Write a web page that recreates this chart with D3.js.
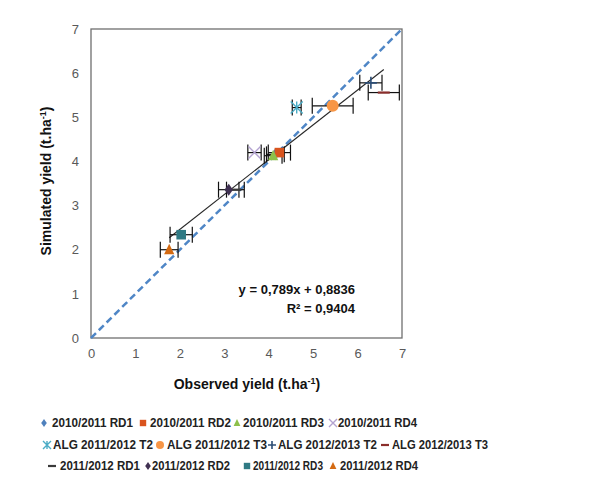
<!DOCTYPE html>
<html>
<head>
<meta charset="utf-8">
<script src="https://cdn.jsdelivr.net/npm/d3@7"></script>
<style>
  body { margin: 0; background: #fff; }
  svg { display: block; }
</style>
</head>
<body>
<div id="chart"></div>
<script>
// series names, in legend order
const seriesNames = [
  "2010/2011 RD1", "2010/2011 RD2", "2010/2011 RD3", "2010/2011 RD4",
  "ALG 2011/2012 T2", "ALG 2011/2012 T3", "ALG 2012/2013 T2", "ALG 2012/2013 T3",
  "2011/2012 RD1", "2011/2012 RD2", "2011/2012 RD3", "2011/2012 RD4",
];
// observed yield (t/ha)
const observed = [4.15, 4.24, 4.1, 3.68, 4.63, 5.44, 6.3, 6.59, 3.25, 3.1, 2.03, 1.76];
// simulated yield (t/ha)
const simulated = [4.16, 4.2, 4.13, 4.2, 5.22, 5.26, 5.78, 5.56, 3.36, 3.36, 2.34, 2.0];
// horizontal error on observed
const obsError = [0.2, 0.25, 0.2, 0.15, 0.1, 0.46, 0.25, 0.35, 0.2, 0.23, 0.25, 0.2];

const markerShapes = ["diamond", "square", "triangle", "x", "asterisk", "circle", "plus", "dash",
  "dash", "diamond", "square", "triangle"];
const markerColors = ["#4F81BD", "#D9541E", "#8DC04A", "#B3A2D0", "#4BACC6", "#F79646", "#2C4D75", "#8B2E2B",
  "#3A3A3A", "#403152", "#2F7A84", "#D46A12"];

const xTicks = [0, 1, 2, 3, 4, 5, 6, 7];
const yTicks = [0, 1, 2, 3, 4, 5, 6, 7];

const trendSlope = 0.789;
const trendIntercept = 0.8836;
const equationLines = ["y = 0,789x + 0,8836", "R² = 0,9404"];

const width = 589, height = 499;
const margin = { top: 29, right: 187, bottom: 161, left: 91 };
const plotW = width - margin.left - margin.right;
const plotH = height - margin.top - margin.bottom;

const data = seriesNames.map((name, i) => ({
  name, obs: observed[i], sim: simulated[i], err: obsError[i],
  shape: markerShapes[i], color: markerColors[i],
}));

const svg = d3.select("#chart").append("svg")
  .attr("width", width).attr("height", height);

const x = d3.scaleLinear().domain([0, 7]).range([0, plotW]);
const y = d3.scaleLinear().domain([0, 7]).range([plotH, 0]);

const g = svg.append("g").attr("transform", `translate(${margin.left},${margin.top})`);

// tick labels
const fontTick = "'Liberation Sans', Arial, sans-serif";
const xAxis = g.append("g").attr("transform", `translate(0,${plotH})`)
  .call(d3.axisBottom(x).tickValues(xTicks).tickSize(0).tickPadding(11).tickFormat(d3.format("d")));
const yAxis = g.append("g")
  .call(d3.axisLeft(y).tickValues(yTicks).tickSize(0).tickPadding(12).tickFormat(d3.format("d")));
[xAxis, yAxis].forEach(a => {
  a.select(".domain").remove();
  a.selectAll("text").attr("fill", "#595959").style("font-family", fontTick).style("font-size", "13px");
});

// plot frame
g.append("rect").attr("width", plotW).attr("height", plotH)
  .attr("fill", "none").attr("stroke", "#6f6f6f").attr("stroke-width", 1.3);

// 1:1 line
g.append("line")
  .attr("x1", x(0)).attr("y1", y(0)).attr("x2", x(7)).attr("y2", y(7))
  .attr("stroke", "#4F86C6").attr("stroke-width", 2.5).attr("stroke-dasharray", "7,4");

// trend line
const ext = d3.extent(data, d => d.obs);
g.append("line")
  .attr("x1", x(ext[0])).attr("y1", y(trendSlope * ext[0] + trendIntercept))
  .attr("x2", x(ext[1])).attr("y2", y(trendSlope * ext[1] + trendIntercept))
  .attr("stroke", "#262626").attr("stroke-width", 1.1);

// error bars
const eb = g.selectAll(".eb").data(data).enter().append("g").attr("class", "eb")
  .attr("stroke", "#111").attr("stroke-width", 1.2);
eb.append("line")
  .attr("x1", d => x(d.obs - d.err)).attr("x2", d => x(d.obs + d.err))
  .attr("y1", d => y(d.sim)).attr("y2", d => y(d.sim));
eb.append("line")
  .attr("x1", d => x(d.obs - d.err)).attr("x2", d => x(d.obs - d.err))
  .attr("y1", d => y(d.sim) - 8).attr("y2", d => y(d.sim) + 8);
eb.append("line")
  .attr("x1", d => x(d.obs + d.err)).attr("x2", d => x(d.obs + d.err))
  .attr("y1", d => y(d.sim) - 8).attr("y2", d => y(d.sim) + 8);

function drawMarker(sel, shape, color, size) {
  const s = size;
  if (shape === "diamond") {
    sel.append("path").attr("d", `M0,${-s}L${s * 0.7},0L0,${s}L${-s * 0.7},0Z`).attr("fill", color);
  } else if (shape === "square") {
    sel.append("rect").attr("x", -s * 0.8).attr("y", -s * 0.8).attr("width", s * 1.6).attr("height", s * 1.6).attr("fill", color);
  } else if (shape === "triangle") {
    sel.append("path").attr("d", `M0,${-s}L${s * 0.85},${s * 0.75}L${-s * 0.85},${s * 0.75}Z`).attr("fill", color);
  } else if (shape === "circle") {
    sel.append("circle").attr("r", s).attr("fill", color);
  } else if (shape === "x") {
    sel.append("path").attr("d", `M${-s},${-s}L${s},${s}M${-s},${s}L${s},${-s}`).attr("stroke", color).attr("stroke-width", 1.4);
  } else if (shape === "asterisk") {
    sel.append("path").attr("d", `M${-s},${-s}L${s},${s}M${-s},${s}L${s},${-s}M0,${-s}L0,${s}`).attr("stroke", color).attr("stroke-width", 1.4);
  } else if (shape === "plus") {
    sel.append("path").attr("d", `M${-s},0L${s},0M0,${-s}L0,${s}`).attr("stroke", color).attr("stroke-width", 1.6);
  } else if (shape === "dash") {
    sel.append("path").attr("d", `M${-s},0L${s},0`).attr("stroke", color).attr("stroke-width", 2.2);
  }
}

// markers
g.selectAll(".pt").data(data).enter().append("g").attr("class", "pt")
  .attr("transform", d => `translate(${x(d.obs)},${y(d.sim)})`)
  .each(function (d) { drawMarker(d3.select(this), d.shape, d.color, 6); });

// equation
const eq = svg.append("text").attr("text-anchor", "end")
  .style("font-family", "'Liberation Sans', Arial, sans-serif").style("font-size", "13px")
  .style("font-weight", "bold").attr("fill", "#111");
eq.selectAll("tspan").data(equationLines).enter().append("tspan")
  .attr("x", 355).attr("y", (d, i) => 294 + i * 19).text(d => d);

// axis titles
svg.append("text").attr("x", 247).attr("y", 389).attr("text-anchor", "middle")
  .style("font-family", "'Liberation Sans', Arial, sans-serif").style("font-size", "14px").style("font-weight", "bold")
  .attr("fill", "#111")
  .html("Observed yield (t.ha<tspan dy='-5' font-size='9px'>-1</tspan><tspan dy='5'>)</tspan>");
svg.append("text").attr("transform", "translate(51,181) rotate(-90)").attr("text-anchor", "middle")
  .style("font-family", "'Liberation Sans', Arial, sans-serif").style("font-size", "14px").style("font-weight", "bold")
  .attr("fill", "#111")
  .html("Simulated yield (t.ha<tspan dy='-5' font-size='9px'>-1</tspan><tspan dy='5'>)</tspan>");

// legend: marker x, text start, text end, row y
const legendPos = [
  [44, 52, 133, 427], [143, 150, 231, 427], [237, 243, 324, 427], [333, 338, 417, 427],
  [47, 53, 153, 449], [160, 167, 267, 449], [272, 278, 377, 449], [385, 392, 488, 449],
  [52, 60, 140, 470], [148, 152, 230, 470], [247, 253, 323, 470], [333, 340, 418, 470],
];
const leg = svg.selectAll(".leg").data(data).enter().append("g").attr("class", "leg");
leg.each(function (d, i) {
  const p = legendPos[i];
  const m = d3.select(this).append("g").attr("transform", `translate(${p[0]},${p[3] - 4})`);
  drawMarker(m, d.shape, d.color, 4);
  d3.select(this).append("text").attr("x", p[1]).attr("y", p[3])
    .attr("textLength", p[2] - p[1]).attr("lengthAdjust", "spacingAndGlyphs")
    .style("font-family", "'Liberation Sans Narrow', 'Liberation Sans', Arial, sans-serif")
    .style("font-size", "13px").style("font-weight", "bold").attr("fill", "#222")
    .text(d.name);
});
</script>
</body>
</html>
